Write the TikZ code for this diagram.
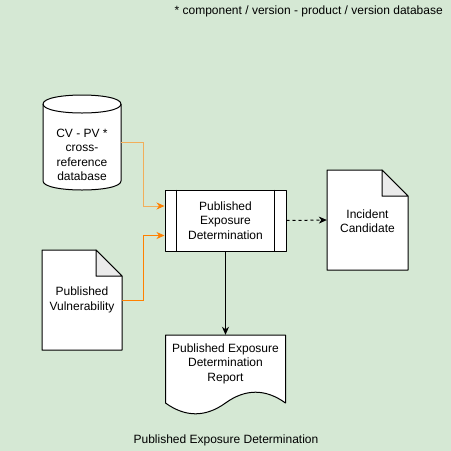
\documentclass[tikz,border=0pt]{standalone}
\usepackage{fontspec}
\setmainfont{Liberation Sans}
\usetikzlibrary{arrows.meta}
\definecolor{bggreen}{HTML}{D5E8D4}
\definecolor{foldgray}{HTML}{EBEBEB}
\definecolor{lightorange}{HTML}{F2AE5A}
\definecolor{darkorange}{HTML}{FF8000}
\begin{document}
\begin{tikzpicture}[x=1pt,y=-1pt,
  lbl/.style={align=center, font=\fontsize{12}{14.5}\selectfont, inner sep=0pt},
  box/.style={inner sep=0pt},
  outline/.style={draw, fill=white, line width=1pt, line join=round},
  flow/.style={line width=1pt, -{Stealth[length=8pt,width=7pt,inset=2.5pt]}}]
% background
\fill[bggreen] (0,0) rectangle (451,451);
\useasboundingbox (0,0) rectangle (451,451);
% note
\node (note) at (443,11) [lbl, anchor=east] {* component / version - product / version database};
% cross-reference database
\draw[outline] (43,104) .. controls (43,92) and (121,92) .. (121,104) -- (121,181) .. controls (121,193) and (43,193) .. (43,181) -- cycle;
\draw[line width=1pt] (43,104) .. controls (43,116) and (121,116) .. (121,104);
\node (db) at (82,142.5) [box, minimum width=78pt, minimum height=95pt] {};
\node (dbtext) at (82,155) [lbl] {CV - PV *\\cross-\\reference\\database};
% published vulnerability
\draw[outline] (42,250) -- (96,250) -- (122,276) -- (122,350) -- (42,350) -- cycle;
\draw[line width=1pt, line join=round, fill=foldgray] (96,250) -- (96,276) -- (122,276) -- cycle;
\node (vuln) at (82,300) [box, minimum width=80pt, minimum height=100pt] {};
\node (vulntext) at (82,300) [lbl] {Published\\Vulnerability};
% process
\node (proc) at (225.5,220.5) [outline, box, minimum width=121pt, minimum height=61pt] {};
\draw[line width=1pt] ([xshift=12pt]proc.north west) -- ([xshift=12pt]proc.south west);
\draw[line width=1pt] ([xshift=-12pt]proc.north east) -- ([xshift=-12pt]proc.south east);
\node (proctext) at (225.5,220.5) [lbl] {Published\\Exposure\\Determination};
% incident candidate
\draw[outline] (327,170) -- (382,170) -- (408,196) -- (408,270) -- (327,270) -- cycle;
\draw[line width=1pt, line join=round, fill=foldgray] (382,170) -- (382,196) -- (408,196) -- cycle;
\node (inc) at (367.5,220) [box, minimum width=81pt, minimum height=100pt] {};
\node (inctext) at (367.5,221) [lbl] {Incident\\Candidate};
% report
\draw[outline] (165.5,335) -- (285.5,335) -- (285.5,403) .. controls (265.5,388.6) and (245.5,388.6) .. (225.5,403) .. controls (205.5,417.4) and (185.5,417.4) .. (165.5,403) -- cycle;
\node (rep) at (225.5,375) [box, minimum width=120pt, minimum height=80pt] {};
\node (reptext) at (225.5,363.5) [lbl] {Published Exposure\\Determination\\Report};
% title
\node (title) at (226,440) [lbl] {Published Exposure Determination};
% connectors
\draw[flow, lightorange, -{Stealth[length=8pt,width=7pt,inset=2.5pt,color=darkorange]}] (db.east) -- ++(22,0) |- ([yshift=14.5pt]proc.west);
\draw[flow, darkorange] (vuln.east) -- ++(21,0) |- ([yshift=-15pt]proc.west);
\draw[flow, dashed] (proc.east) -- (inc.west);
\draw[flow] (proc.south) -- (rep.north);
\end{tikzpicture}
\end{document}
